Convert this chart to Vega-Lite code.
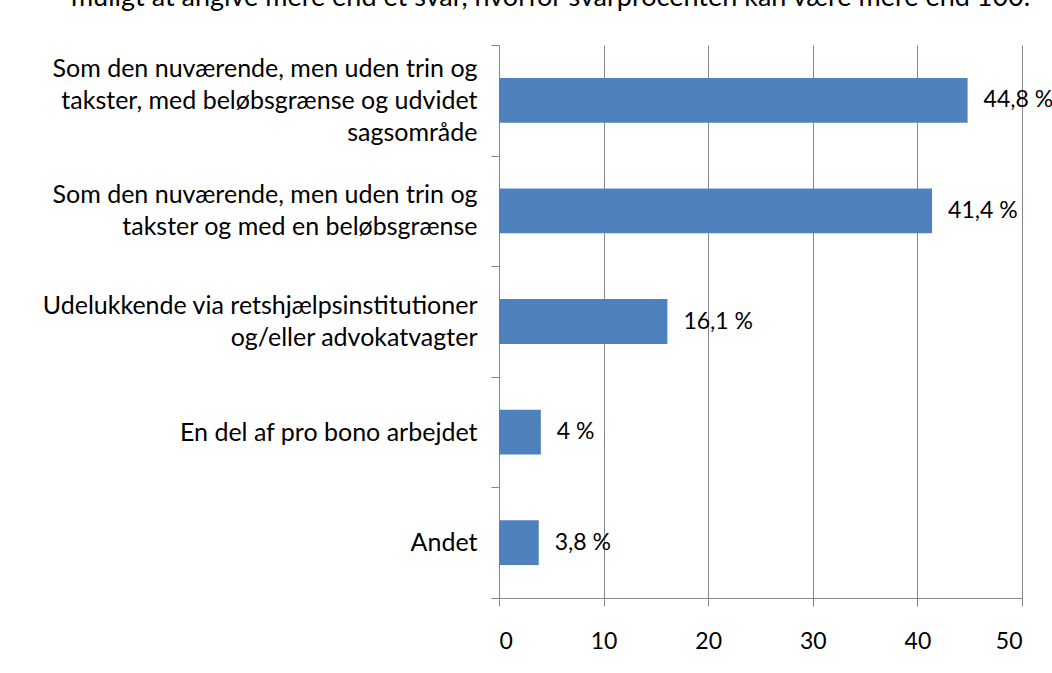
{
  "$schema": "https://vega.github.io/schema/vega-lite/v6.json",
  "autosize": "none",
  "width": 523,
  "height": 553,
  "padding": {"left": 499, "top": 45, "right": 30, "bottom": 75},
  "background": "white",
  "title": {
    "text": "muligt at angive mere end et svar, hvorfor svarprocenten kan være mere end 100.",
    "frame": "group",
    "anchor": "middle",
    "dx": -210,
    "dy": 0,
    "offset": 0,
    "baseline": "alphabetic",
    "font": "Lato",
    "fontSize": 27,
    "fontWeight": "normal",
    "color": "#000000"
  },
  "data": {
    "values": [
      {"kategori": "Som den nuværende, men uden trin og|takster, med beløbsgrænse og udvidet|sagsområde", "orden": 1, "procent": 44.8, "etiket": "44,8 %"},
      {"kategori": "Som den nuværende, men uden trin og|takster og med en beløbsgrænse", "orden": 2, "procent": 41.4, "etiket": "41,4 %"},
      {"kategori": "Udelukkende via retshjælpsinstitutioner|og/eller advokatvagter", "orden": 3, "procent": 16.1, "etiket": "16,1 %"},
      {"kategori": "En del af pro bono arbejdet", "orden": 4, "procent": 4, "etiket": "4 %"},
      {"kategori": "Andet", "orden": 5, "procent": 3.8, "etiket": "3,8 %"}
    ]
  },
  "encoding": {
    "y": {
      "field": "kategori",
      "type": "nominal",
      "sort": {"field": "orden", "order": "ascending"},
      "scale": {"paddingInner": 0, "paddingOuter": 0},
      "axis": {
        "title": null,
        "tickBand": "extent",
        "labelExpr": "split(datum.label, '|')",
        "labelOffset": {"condition": [
          {"test": "length(split(datum.value, '|')) == 3", "value": -32},
          {"test": "length(split(datum.value, '|')) == 2", "value": -16}
        ], "value": 0},
        "labelLimit": 500,
        "labelFont": "Lato",
        "labelFontSize": 25,
        "labelColor": "#000000",
        "labelLineHeight": 32,
        "labelPadding": 14,
        "tickSize": 8,
        "tickColor": "#868686",
        "domainColor": "#868686",
        "grid": false
      }
    },
    "x": {
      "field": "procent",
      "type": "quantitative",
      "scale": {"domain": [0, 50], "nice": false},
      "axis": {
        "title": null,
        "values": [0, 10, 20, 30, 40, 50],
        "labelFont": "Lato",
        "labelFontSize": 23,
        "labelColor": "#000000",
        "labelPadding": 24,
        "tickSize": 8,
        "tickColor": "#868686",
        "domainColor": "#868686",
        "grid": true,
        "gridColor": "#868686",
        "gridWidth": 1
      }
    }
  },
  "layer": [
    {"mark": {"type": "bar", "color": "#4F81BD", "height": {"band": 0.405}}},
    {
      "mark": {"type": "text", "align": "left", "dx": 16, "font": "Lato", "fontSize": 23, "color": "#000000"},
      "encoding": {"text": {"field": "etiket"}}
    }
  ],
  "config": {"view": {"stroke": null}}
}
